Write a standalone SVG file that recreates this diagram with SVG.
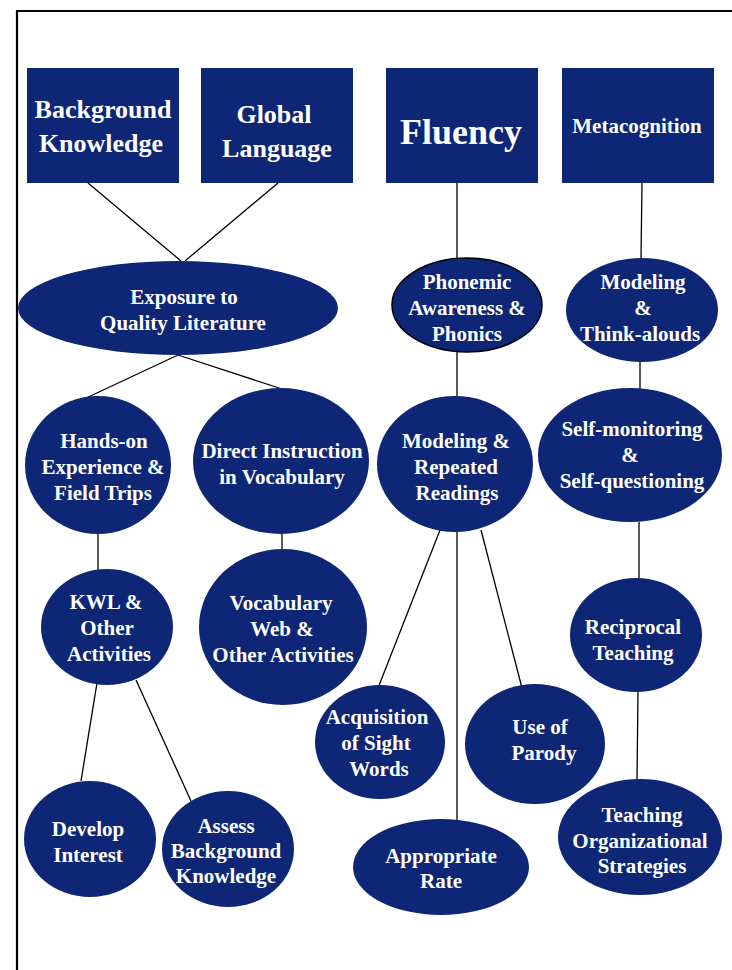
<svg xmlns="http://www.w3.org/2000/svg" width="732" height="970" viewBox="0 0 732 970">
<style>
.n{fill:#0d2675}
.t{fill:#ffffff;font-family:"Liberation Serif","Times New Roman",serif;font-weight:bold;text-anchor:middle}
.e{font-size:21px}
.c line{stroke:#000;stroke-width:1.3}
</style>
<rect width="732" height="970" fill="#fff"/>
<path d="M17 970 V11 H732" fill="none" stroke="#000" stroke-width="2.2"/>
<g class="c">
<line x1="88" y1="183" x2="181" y2="261"/>
<line x1="278" y1="183" x2="185" y2="261"/>
<line x1="178" y1="355" x2="84" y2="399"/>
<line x1="178" y1="355" x2="282" y2="389"/>
<line x1="98" y1="533" x2="98" y2="570"/>
<line x1="282" y1="533" x2="282" y2="549"/>
<line x1="97" y1="683" x2="81" y2="781"/>
<line x1="136" y1="680" x2="191" y2="801"/>
<line x1="457" y1="183" x2="457" y2="258"/>
<line x1="457" y1="352" x2="457" y2="396"/>
<line x1="442" y1="525" x2="378" y2="688"/>
<line x1="457" y1="531" x2="457" y2="820"/>
<line x1="481" y1="530" x2="522" y2="688"/>
<line x1="642" y1="183" x2="641" y2="259"/>
<line x1="640" y1="361" x2="640" y2="389"/>
<line x1="639" y1="522" x2="639" y2="579"/>
<line x1="638" y1="691" x2="637" y2="781"/>
</g>
<g id="background-knowledge"><rect class="n" x="27" y="68" width="152" height="115"/><text class="t" font-size="26" x="103" y="118">Background</text><text class="t" font-size="26" x="101" y="152">Knowledge</text></g>
<g id="global-language"><rect class="n" x="201" y="68" width="152" height="115"/><text class="t" font-size="26" x="274" y="123">Global</text><text class="t" font-size="26" x="277" y="157">Language</text></g>
<g id="fluency"><rect class="n" x="386" y="68" width="152" height="115"/><text class="t" font-size="36" x="461" y="144">Fluency</text></g>
<g id="metacognition"><rect class="n" x="562" y="68" width="152" height="115"/><text class="t" font-size="21" x="637" y="133">Metacognition</text></g>
<g id="exposure"><ellipse class="n" cx="178" cy="308" rx="160" ry="47"/><text class="t e" x="184" y="304">Exposure to</text><text class="t e" x="183" y="330">Quality Literature</text></g>
<g id="phonemic"><ellipse class="n" cx="467" cy="305" rx="75" ry="47" stroke="#000" stroke-width="1.5"/><text class="t e" x="467" y="289">Phonemic</text><text class="t e" x="467" y="315">Awareness &amp;</text><text class="t e" x="467" y="341">Phonics</text></g>
<g id="think-alouds"><ellipse class="n" cx="642" cy="310" rx="76" ry="52"/><text class="t e" x="643" y="289">Modeling</text><text class="t e" x="643" y="315">&amp;</text><text class="t e" x="640" y="341">Think-alouds</text></g>
<g id="hands-on"><ellipse class="n" cx="98" cy="465" rx="73" ry="69"/><text class="t e" x="104" y="448">Hands-on</text><text class="t e" x="103" y="474">Experience &amp;</text><text class="t e" x="103" y="500">Field Trips</text></g>
<g id="direct-instruction"><ellipse class="n" cx="281" cy="461" rx="88" ry="73"/><text class="t e" x="282" y="458">Direct Instruction</text><text class="t e" x="282" y="484">in Vocabulary</text></g>
<g id="repeated-readings"><ellipse class="n" cx="455" cy="464" rx="78" ry="68"/><text class="t e" x="456" y="448">Modeling &amp;</text><text class="t e" x="456" y="474">Repeated</text><text class="t e" x="457" y="500">Readings</text></g>
<g id="self-monitoring"><ellipse class="n" cx="630" cy="455" rx="92" ry="67"/><text class="t e" x="632" y="436">Self-monitoring</text><text class="t e" x="630" y="462">&amp;</text><text class="t e" x="632" y="488">Self-questioning</text></g>
<g id="kwl"><ellipse class="n" cx="107" cy="627" rx="66" ry="58"/><text class="t e" x="106" y="609">KWL &amp;</text><text class="t e" x="107" y="635">Other</text><text class="t e" x="109" y="661">Activities</text></g>
<g id="vocabulary-web"><ellipse class="n" cx="283" cy="627" rx="84" ry="78"/><text class="t e" x="281" y="610">Vocabulary</text><text class="t e" x="282" y="636">Web &amp;</text><text class="t e" x="283" y="662">Other Activities</text></g>
<g id="reciprocal"><ellipse class="n" cx="636" cy="635" rx="66" ry="57"/><text class="t e" x="633" y="634">Reciprocal</text><text class="t e" x="633" y="660">Teaching</text></g>
<g id="sight-words"><ellipse class="n" cx="380" cy="742" rx="65" ry="57"/><text class="t e" x="377" y="724">Acquisition</text><text class="t e" x="376" y="750">of Sight</text><text class="t e" x="379" y="776">Words</text></g>
<g id="parody"><ellipse class="n" cx="535" cy="744" rx="70" ry="60"/><text class="t e" x="540" y="734">Use of</text><text class="t e" x="544" y="760">Parody</text></g>
<g id="develop-interest"><ellipse class="n" cx="90" cy="839" rx="66" ry="58"/><text class="t e" x="88" y="836">Develop</text><text class="t e" x="88" y="862">Interest</text></g>
<g id="assess"><ellipse class="n" cx="228" cy="849" rx="66" ry="58"/><text class="t e" x="226" y="833">Assess</text><text class="t e" x="226" y="858">Background</text><text class="t e" x="226" y="883">Knowledge</text></g>
<g id="appropriate-rate"><ellipse class="n" cx="441" cy="867" rx="88" ry="48"/><text class="t e" x="441" y="863">Appropriate</text><text class="t e" x="441" y="888">Rate</text></g>
<g id="organizational"><ellipse class="n" cx="640" cy="837" rx="82" ry="58"/><text class="t e" x="642" y="822">Teaching</text><text class="t e" x="640" y="848">Organizational</text><text class="t e" x="642" y="873">Strategies</text></g>
</svg>
